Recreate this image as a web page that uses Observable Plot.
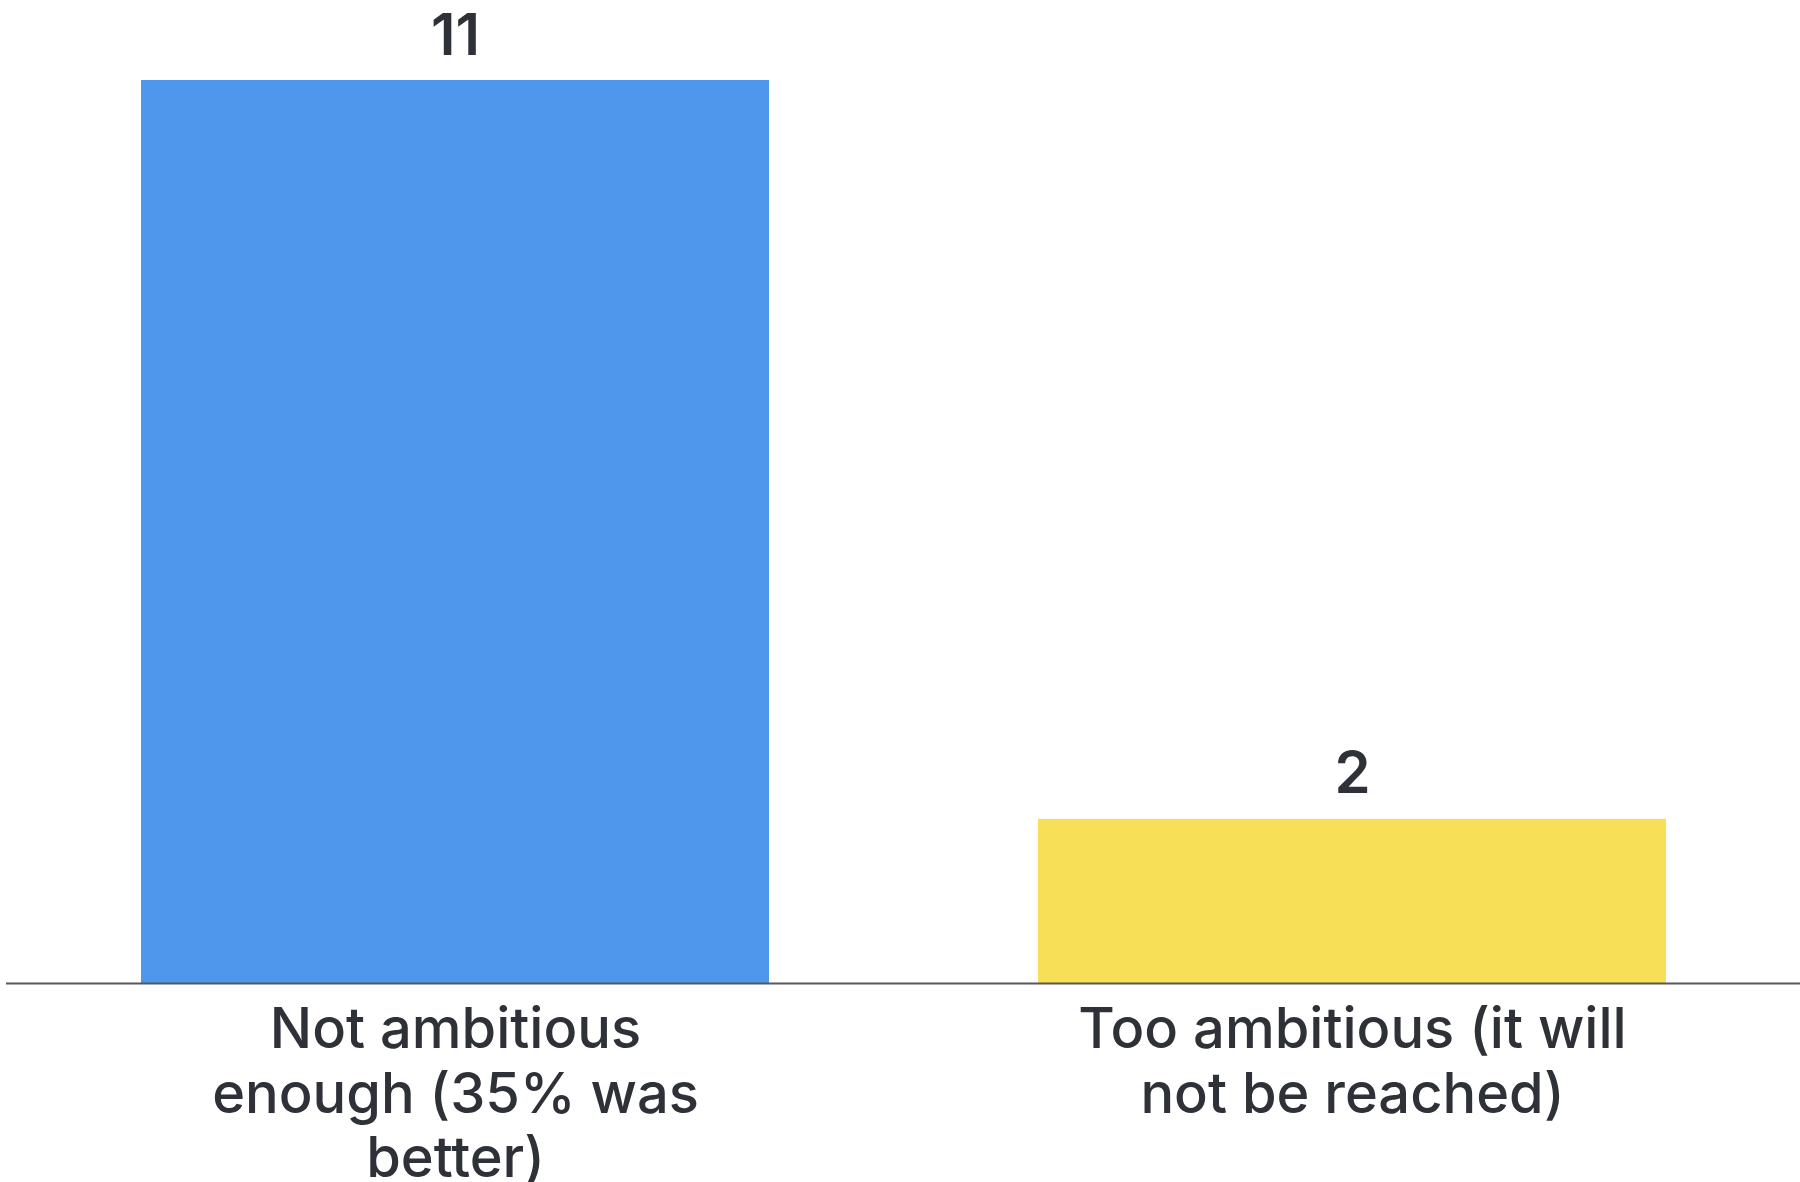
<!DOCTYPE html>
<html>
<head>
<meta charset="utf-8">
<script src="https://cdn.jsdelivr.net/npm/d3@7"></script>
<script src="https://cdn.jsdelivr.net/npm/@observablehq/plot@0.6"></script>
<style>
  html, body { margin: 0; padding: 0; background: #ffffff; overflow: hidden; }
  #chart svg { display: block; font-variant-ligatures: none; }
</style>
</head>
<body>
<div id="chart"></div>
<script>
const categories = ["Not ambitious enough (35% was better)", "Too ambitious (it will not be reached)"];
const tickLabels = ["Not ambitious\nenough (35% was\nbetter)", "Too ambitious (it will\nnot be reached)"];
const values = [11, 2];
const colors = ["#4e97ec", "#f8df58"];

const data = categories.map((c, i) => ({category: c, value: values[i]}));
const labelOf = new Map(categories.map((c, i) => [c, tickLabels[i]]));

const chart = Plot.plot({
  width: 1800,
  height: 1182,
  marginTop: 80,
  marginBottom: 199,
  marginLeft: 6,
  marginRight: 0,
  style: {fontFamily: "Inter, Lato, 'Noto Sans', sans-serif", color: "#2e3138", background: "#ffffff"},
  x: {domain: categories, paddingInner: 0.3, paddingOuter: 0.15, axis: null},
  y: {domain: [0, 11], axis: null},
  color: {domain: categories, range: colors},
  marks: [
    Plot.barY(data, {x: "category", y: "value", fill: "category"}),
    Plot.ruleY([0], {stroke: "#55585e", strokeWidth: 2}),
    Plot.text(data, {x: "category", y: "value", text: d => String(d.value), lineAnchor: "bottom", dy: -26, fontSize: 58, fontWeight: 600, fill: "#2e3138"}),
    Plot.axisX({tickSize: 0, tickPadding: 19, label: null, tickFormat: d => labelOf.get(d), fontSize: 56, lineHeight: 1.15, fontWeight: 500, fill: "#2e3138"})
  ]
});
document.getElementById("chart").appendChild(chart);
</script>
</body>
</html>
